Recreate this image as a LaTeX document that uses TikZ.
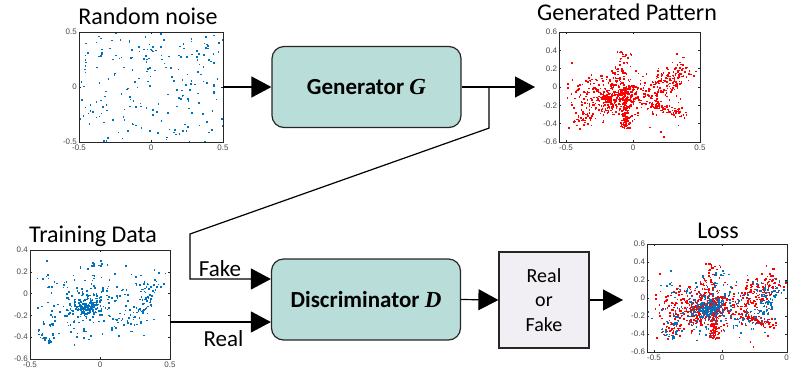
\documentclass[tikz,border=0pt]{standalone}
\usepackage{fontspec}
\setmainfont{Carlito}
\newfontfamily\axisfont{Liberation Sans}
\newfontfamily\symfont{Liberation Serif}
\usetikzlibrary{arrows.meta,positioning}

\definecolor{mblue}{RGB}{0,114,189}
\definecolor{mred}{RGB}{255,0,0}
\definecolor{boxteal}{RGB}{185,221,216}
\definecolor{boxgray}{RGB}{241,239,244}
\definecolor{axisgray}{RGB}{38,38,38}

\newcommand\msym[1]{{\symfont\bfseries\itshape #1}}

% points along a segment, with gaussian-ish noise
\newcommand\blob[7]{%
  \foreach \i in {1,...,#1}{%
    \pgfmathsetmacro\sa{rnd}%
    \pgfmathsetmacro\px{(#2)+((#4)-(#2))*\sa+(#6)*(rand+rand+rand)}%
    \pgfmathsetmacro\py{(#3)+((#5)-(#3))*\sa+(#7)*(rand+rand+rand)}%
    \fill (\px,\py) +(-0.8pt,-0.8pt) rectangle +(0.8pt,0.8pt);
  }}

% axes box with inner ticks and labels
\newcommand\axesbox[6]{%
  \draw[axisline] (#1,#3) rectangle (#2,#4);
  \foreach \tk in {#5}{%
    \draw[axisline] (\tk,#3) -- ++(0pt,2pt) (\tk,#4) -- ++(0pt,-2pt);
    \node[ticklabel,below,inner sep=2.5pt] at (\tk,#3) {\tk};}
  \foreach \tk in {#6}{%
    \draw[axisline] (#1,\tk) -- ++(2pt,0pt) (#2,\tk) -- ++(-2pt,0pt);
    \node[ticklabel,left,inner sep=2pt] at (#1,\tk) {\tk};}}

% generated samples
\newcommand\genpattern{%
  \pgfmathsetseed{17}%
  \blob{320}{-0.15}{-0.12}{-0.15}{-0.12}{0.15}{0.11}%
  \blob{80}{-0.24}{-0.13}{0.03}{-0.01}{0.016}{0.016}%
  \blob{60}{-0.45}{-0.42}{-0.12}{-0.16}{0.035}{0.035}%
  \blob{120}{-0.065}{-0.05}{-0.06}{-0.45}{0.016}{0.012}%
  \blob{50}{-0.12}{0.0}{-0.06}{0.36}{0.03}{0.03}%
  \blob{150}{0.15}{-0.05}{0.4}{0.2}{0.06}{0.07}%
  \blob{70}{0.15}{-0.18}{0.37}{-0.3}{0.025}{0.025}%
  \blob{60}{0}{-0.1}{0}{-0.1}{0.3}{0.2}}

% training samples
\newcommand\trainpattern{%
  \pgfmathsetseed{5}%
  \blob{150}{-0.09}{-0.12}{-0.09}{-0.12}{0.055}{0.05}%
  \blob{200}{-0.05}{-0.1}{-0.05}{-0.1}{0.22}{0.16}%
  \blob{70}{0.25}{-0.32}{0.4}{0.15}{0.04}{0.04}%
  \blob{15}{-0.46}{-0.35}{-0.35}{-0.45}{0.01}{0.01}%
  \blob{10}{-0.33}{-0.2}{-0.33}{-0.4}{0.01}{0.01}%
  \blob{12}{-0.03}{0.27}{-0.03}{0.27}{0.04}{0.02}}

\begin{document}
\begin{tikzpicture}[x=1pt,y=-1pt,
  axisline/.style={axisgray,line width=0.6pt},
  ticklabel/.style={text=axisgray!85,inner sep=1.5pt,font=\axisfont\fontsize{8}{9}\selectfont},
  title/.style={font=\fontsize{24}{28}\selectfont,inner sep=0pt},
  lbl/.style={font=\fontsize{23}{28}\selectfont},
  block/.style={draw=axisgray,fill=boxteal,line width=1.2pt,rounded corners=12pt,
    minimum width=189pt,minimum height=81pt,font=\fontsize{23}{28}\selectfont\bfseries},
  decision/.style={draw=axisgray,fill=boxgray,line width=1.2pt,align=center,
    minimum width=90pt,minimum height=96pt,font=\fontsize{20}{24.5}\selectfont},
  wire/.style={line width=1.2pt},
  flow/.style={wire,-{Triangle[length=20pt,width=21pt]}}]

\useasboundingbox (0,0) rectangle (789,376);

% random noise input
\begin{scope}[shift={(151,87)},x=144pt,y=110pt]
  \begin{scope}[mblue]
    \clip (-0.5,-0.5) rectangle (0.5,0.5);
    \pgfmathsetseed{3}
    \foreach \i in {1,...,220}
      \fill ({0.5*rand},{0.5*rand}) +(-0.8pt,-0.8pt) rectangle +(0.8pt,0.8pt);
  \end{scope}
  \axesbox{-0.5}{0.5}{-0.5}{0.5}{-0.5,0,0.5}{-0.5,0,0.5}
\end{scope}

% generated pattern
\begin{scope}[shift={(633,87)},x=134pt,y=91.7pt]
  \begin{scope}[mred]
    \clip (-0.55,-0.6) rectangle (0.5,0.6);
    \genpattern
  \end{scope}
  \axesbox{-0.55}{0.5}{-0.6}{0.6}{-0.5,0,0.5}{0.6,0.4,0.2,0,-0.2,-0.4,-0.6}
\end{scope}

% training data
\begin{scope}[shift={(100,293.6)},x=140pt,y=109pt]
  \begin{scope}[mblue]
    \clip (-0.5,-0.6) rectangle (0.5,0.4);
    \trainpattern
  \end{scope}
  \axesbox{-0.5}{0.5}{-0.6}{0.4}{-0.5,0,0.5}{0.4,0.2,0,-0.2,-0.4,-0.6}
\end{scope}

% loss: both sets overlaid
\begin{scope}[shift={(722,298)},x=136pt,y=90pt]
  \begin{scope}
    \clip (-0.55,-0.6) rectangle (0.48,0.6);
    \begin{scope}[mred]\genpattern\end{scope}
    \begin{scope}[mblue]\trainpattern\end{scope}
  \end{scope}
  \axesbox{-0.55}{0.48}{-0.6}{0.6}{-0.5,0,0.5}{0.6,0.4,0.2,0,-0.2,-0.4,-0.6}
\end{scope}

% titles
\node[title,anchor=base] (noiseTitle) at (148,24) {Random noise};
\node[title,anchor=base] (genTitle) at (627,20) {Generated Pattern};
\node[title,anchor=base] (trainTitle) at (93,242) {Training Data};
\node[title,anchor=base] (lossTitle) at (718,238) {Loss};

% blocks
\node[block] (gen) at (366.5,87) {Generator \msym{G}};
\node[block] (disc) at (366,299.5) {Discriminator \msym{D}};
\node[decision] (dec) at (544,300) {Real\\or\\Fake};

\coordinate (noiseE) at (223,87);
\coordinate (patIn) at (535,87);
\coordinate (split) at (489,87);
\coordinate (trainE) at (170,322);
\coordinate (fakeIn) at ([yshift=20.5pt]disc.west);
\coordinate (realIn) at ([yshift=-22.5pt]disc.west);
\coordinate (lossIn) at (623,300);

% connectors
\draw[flow] (noiseE) -- (gen.west);
\draw[flow] (gen.east) -- (patIn);
\draw[flow] (split) -- (split |- gen.south) -- (190,234) -- (190,279)
  -- node[lbl,above,pos=.37,inner sep=2pt] {Fake} (fakeIn);
\draw[flow] (trainE) -- node[lbl,below=5pt,pos=.53] {Real} (realIn);
\draw[flow] (disc.east) -- (dec.west);
\draw[flow] (dec.east) -- (lossIn);
\end{tikzpicture}
\end{document}
